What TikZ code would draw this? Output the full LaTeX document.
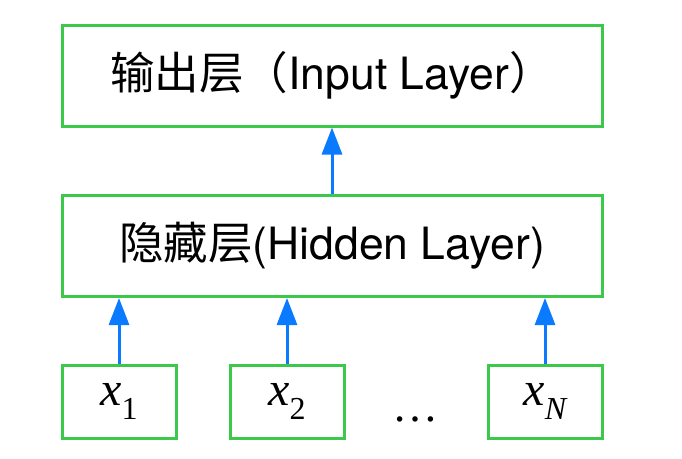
\documentclass[tikz,border=0pt]{standalone}
\usepackage{fontspec}
\usetikzlibrary{arrows.meta}
\newfontfamily\cjk{Noto Sans CJK SC}
\newfontfamily\lat{TeX Gyre Heros}
\newfontfamily\tim{Liberation Serif}
\definecolor{boxgreen}{RGB}{60,200,75}
\definecolor{arrowblue}{RGB}{10,122,255}
\tikzset{
  layerbox/.style={draw=boxgreen, line width=3pt, inner sep=0pt, minimum width=540pt, minimum height=101pt, font=\fontsize{44.5}{44.5}\selectfont},
  inbox/.style={draw=boxgreen, line width=3pt, inner sep=0pt, minimum width=114pt, minimum height=73pt, font=\tim\fontsize{48}{48}\selectfont},
  uparrow/.style={draw=arrowblue, line width=3pt, -{Triangle[width=20pt,length=27pt]}},
}
\newcommand{\subsc}[1]{\raisebox{-0.3em}{\fontsize{32}{32}\selectfont #1}}
\begin{document}
\begin{tikzpicture}[x=1pt,y=-1pt]
\useasboundingbox (0,0) rectangle (682,458);
\node[layerbox] (out) at (332,75.5) {\cjk 输出层（\lat Input Layer\cjk ）};
\node[layerbox] (hid) at (332,246) {\cjk 隐藏层\lat (Hidden Layer)};
\node[inbox] (x1) at (119,401.5) {\itshape x\subsc{\upshape 1}};
\node[inbox] (x2) at (287,401.5) {\itshape x\subsc{\upshape 2}};
\node[inbox] (xN) at (545,401.5) {\itshape x\subsc{N}};
\node[font=\tim\fontsize{46}{46}\selectfont, inner sep=0pt, anchor=base] (dots) at (415,421) {\ldots};
\draw[uparrow] (hid.north) -- (out.south);
\draw[uparrow] (x1.north) -- (x1.north |- hid.south);
\draw[uparrow] (x2.north) -- (x2.north |- hid.south);
\draw[uparrow] (xN.north) -- (xN.north |- hid.south);
\end{tikzpicture}
\end{document}
